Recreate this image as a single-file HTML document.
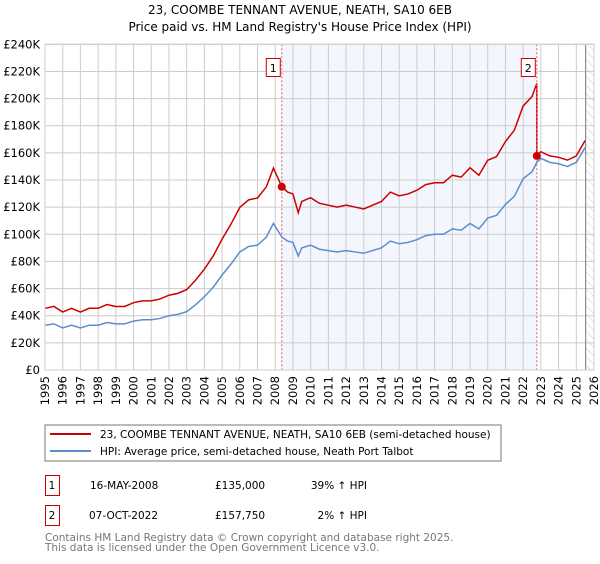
<!DOCTYPE html>
<html><head><meta charset="utf-8"><style>
body{margin:0;background:#fff;font-family:"DejaVu Sans",sans-serif;}
svg text{font-family:"DejaVu Sans",sans-serif;}
</style></head><body>
<svg id="c" width="600" height="560" xmlns="http://www.w3.org/2000/svg">
<defs><pattern id="hatch" width="6" height="6" patternUnits="userSpaceOnUse" patternTransform="rotate(-45)"><line x1="0" y1="0" x2="0" y2="6" stroke="#ccc" stroke-width="1"/></pattern></defs>
<text x="300" y="14" text-anchor="middle" font-size="12">23, COOMBE TENNANT AVENUE, NEATH, SA10 6EB</text>
<text x="300" y="31" text-anchor="middle" font-size="12">Price paid vs. HM Land Registry's House Price Index (HPI)</text>
<g id="plot"></g>
<rect x="45" y="425" width="456" height="36" fill="#fff" stroke="#777"/>
<line x1="50" y1="434" x2="91" y2="434" stroke="#cc0000" stroke-width="2"/>
<text x="100" y="438" font-size="10.5">23, COOMBE TENNANT AVENUE, NEATH, SA10 6EB (semi-detached house)</text>
<line x1="50" y1="451" x2="91" y2="451" stroke="#5b8ed0" stroke-width="2"/>
<text x="100" y="455" font-size="10.5">HPI: Average price, semi-detached house, Neath Port Talbot</text>
<g font-size="10.5">
<rect x="45.5" y="475.5" width="14" height="20" fill="none" stroke="#cc0000"/>
<text x="52" y="489" text-anchor="middle">1</text>
<text x="90" y="489">16-MAY-2008</text><text x="215" y="489">£135,000</text><text x="367" y="489" text-anchor="end">39% ↑ HPI</text>
<rect x="45.5" y="505.5" width="14" height="20" fill="none" stroke="#cc0000"/>
<text x="52" y="519" text-anchor="middle">2</text>
<text x="89" y="519">07-OCT-2022</text><text x="215" y="519">£157,750</text><text x="367" y="519" text-anchor="end">2% ↑ HPI</text>
</g>
<text x="45" y="541" font-size="10.5" fill="#777">Contains HM Land Registry data © Crown copyright and database right 2025.</text>
<text x="45" y="551" font-size="10.5" fill="#777">This data is licensed under the Open Government Licence v3.0.</text>
</svg>
<script>
const hpiYears=[1995,1995.5,1996,1996.5,1997,1997.5,1998,1998.5,1999,1999.5,2000,2000.5,2001,2001.5,2002,2002.5,2003,2003.5,2004,2004.5,2005,2005.5,2006,2006.5,2007,2007.5,2007.9,2008.37,2008.7,2009,2009.3,2009.5,2010,2010.5,2011,2011.5,2012,2012.5,2013,2013.5,2014,2014.5,2015,2015.5,2016,2016.5,2017,2017.5,2018,2018.5,2019,2019.5,2020,2020.5,2021,2021.5,2022,2022.5,2022.77,2023,2023.5,2024,2024.5,2025,2025.5];
const hpiValues=[33,34,31,33,31,33,33,35,34,34,36,37,37,38,40,41,43,48,54,61,70,78,87,91,92,98,108,98,95,94,84,90,92,89,88,87,88,87,86,88,90,95,93,94,96,99,100,100,104,103,108,104,112,114,122,128,141,146,153,156,153,152,150,153,164];
const saleYears=[2008.37,2022.77];
const salePrices=[135,157.75];
const yTicks=[0,20,40,60,80,100,120,140,160,180,200,220,240];
const xTicks=[1995,1996,1997,1998,1999,2000,2001,2002,2003,2004,2005,2006,2007,2008,2009,2010,2011,2012,2013,2014,2015,2016,2017,2018,2019,2020,2021,2022,2023,2024,2025,2026];
const X0=45,X1=594,Y0=370,Y1=44.3;
const xs=y=>X0+(y-1995)/(2026-1995)*(X1-X0);
const ys=v=>Y0-v/240*(Y0-Y1);
const NS="http://www.w3.org/2000/svg";
const g=document.getElementById('plot');
function mk(t,a){const e=document.createElementNS(NS,t);for(const k in a)e.setAttribute(k,a[k]);g.appendChild(e);return e;}
let e;
e=mk('rect',{x:xs(saleYears[0]),y:Y1,width:xs(saleYears[1])-xs(saleYears[0]),height:Y0-Y1,fill:'#eef3fc',opacity:0.7});


const hatchStart=2025.53;
e=mk('rect',{x:xs(hatchStart),y:Y1,width:X1-xs(hatchStart),height:Y0-Y1,fill:'url(#hatch)'});


yTicks.forEach(v=>{
 e=mk('line',{x1:X0,x2:X1,y1:ys(v),y2:ys(v),stroke:'#ccc','stroke-width':1});
 
 
 e=mk('text',{x:40,y:ys(v)+4,'text-anchor':'end','font-size':11.5});
 e.textContent=v===0?'£0':'£'+v+'K';
 
 
});
xTicks.forEach(v=>{
 e=mk('line',{x1:xs(v),x2:xs(v),y1:Y1,y2:Y0,stroke:'#ccc','stroke-width':1});
 
 
 e=mk('text',{x:xs(v)+4,y:Y0+6,'text-anchor':'end','font-size':11.5,transform:`rotate(-90 ${xs(v)+4} ${Y0+6})`});
 e.textContent=v;
 
 
});
e=mk('line',{x1:xs(hatchStart),x2:xs(hatchStart),y1:Y1,y2:Y0,stroke:'#777','stroke-width':1});


function hpiAt(y){for(let i=0;i<hpiYears.length-1;i++){if(y>=hpiYears[i]&&y<=hpiYears[i+1]){const t=(y-hpiYears[i])/(hpiYears[i+1]-hpiYears[i]);return hpiValues[i]+t*(hpiValues[i+1]-hpiValues[i]);}}return hpiValues[hpiValues.length-1];}
const redPts=[];
const f1=salePrices[0]/hpiAt(saleYears[0]);
const f2pre=1.38;
const f2=salePrices[1]/hpiAt(saleYears[1]);
hpiYears.forEach((y,i)=>{
 let f;
 if(y<=saleYears[0])f=f1;else if(y<saleYears[1])f=f2pre;else f=f2;
 if(y===saleYears[1]){redPts.push([xs(y),ys(hpiValues[i]*f2pre)]);}
 redPts.push([xs(y),ys(hpiValues[i]*f)]);
});
e=mk('polyline',{points:hpiYears.map((y,i)=>xs(y)+','+ys(hpiValues[i])).join(' '),fill:'none',stroke:'#5b8ed0','stroke-width':1.5});


e=mk('polyline',{points:redPts.map(p=>p.join(',')).join(' '),fill:'none',stroke:'#cc0000','stroke-width':1.5});


saleYears.forEach((y,i)=>{
 e=mk('line',{x1:xs(y),x2:xs(y),y1:Y1,y2:Y0,stroke:'#e06060','stroke-width':1,'stroke-dasharray':'2,2'});
 
 
 e=mk('circle',{cx:xs(y),cy:ys(salePrices[i]),r:4,fill:'#cc0000'});
 
 
 e=mk('rect',{x:xs(y)-15.5,y:58.5,width:14,height:18,fill:'#fff',stroke:'#cc0000'});
 
 
 e=mk('text',{x:xs(y)-8.5,y:72,'text-anchor':'middle','font-size':11});
 e.textContent=String(i+1);
 
 
});
e=mk('rect',{x:X0,y:Y1,width:X1-X0,height:Y0-Y1,fill:'none',stroke:'#ccc'});


</script>
</body></html>
